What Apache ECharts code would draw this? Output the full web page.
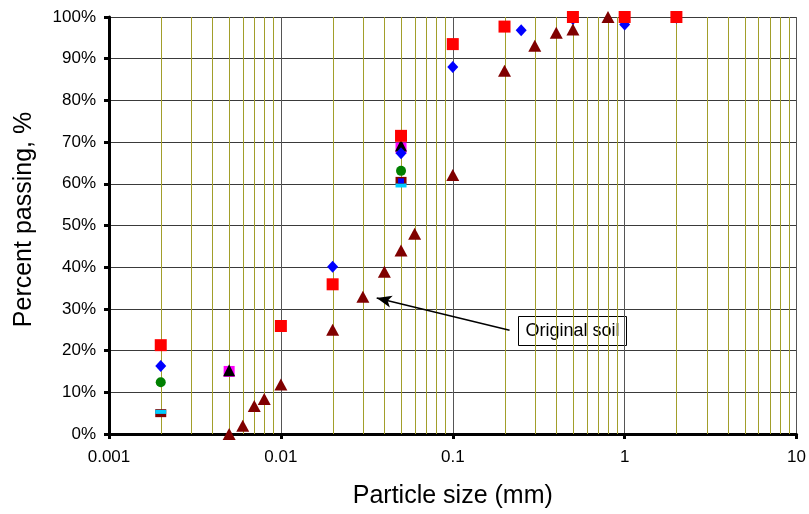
<!DOCTYPE html>
<html>
<head>
<meta charset="utf-8">
<script src="https://cdn.jsdelivr.net/npm/echarts@6/dist/echarts.min.js"></script>
<style>html,body{margin:0;padding:0;background:#fff}#c{width:809px;height:514px}</style>
</head>
<body>
<div id="c"></div>
<script>
// ---- data (particle size in mm, percent passing) ----
const blueSize   = [0.002, 0.02, 0.05, 0.1, 0.25, 0.5, 1, 2];
const blueVal    = [16.3, 40.1, 67.3, 88.0, 96.8, 99.5, 98.2, 99.8];
const redSize    = [0.002, 0.01, 0.02, 0.05, 0.1, 0.2, 0.5, 1, 2];
const redVal     = [21.3, 25.9, 35.9, 71.5, 93.5, 97.7, 100, 100, 100];
const origSize   = [0.005, 0.006, 0.007, 0.008, 0.01, 0.02, 0.03, 0.04, 0.05, 0.06, 0.1, 0.2, 0.3, 0.4, 0.5, 0.8];
const origVal    = [0, 2.0, 6.7, 8.4, 11.9, 25.0, 32.9, 38.9, 44.0, 48.0, 62.1, 87.1, 93.1, 96.2, 97.0, 100];
const greenSize  = [0.002, 0.05];
const greenVal   = [12.4, 63.1];
const magentaSize= [0.005, 0.05];
const magentaVal = [15.0, 68.6];
const blackSize  = [0.005, 0.05];
const blackVal   = [15.3, 69.2];
const maroonSize = [0.002, 0.05];
const maroonVal  = [5.0, 60.7];
const cyanSize   = [0.002, 0.05];
const cyanVal    = [5.3, 59.6];
const navySize   = [0.05];
const navyVal    = [60.7];
const xTickLabels = ['0.001', '0.01', '0.1', '1', '10'];
const minorTicks = [];
[0.001, 0.01, 0.1, 1].forEach(d => { for (let m = 2; m <= 9; m++) minorTicks.push(+(d * m).toPrecision(2)); });
const arrowFrom = [0.214, 24.9];
const arrowTo   = [0.0361, 32.6];
const noteText  = 'Original soil';

const pts = (xs, ys) => xs.map((x, i) => [x, ys[i]]);
const FONT = "'Liberation Sans', Arial, sans-serif";

function sc(name, xs, ys, symbol, size, color, z, extra) {
  return Object.assign({
    name: name, type: 'scatter', data: pts(xs, ys), symbol: symbol, symbolSize: size,
    itemStyle: { color: color, opacity: 1 }, z: z, clip: false, silent: true
  }, extra || {});
}

const chart = echarts.init(document.getElementById('c'), null, { renderer: 'canvas' });
chart.setOption({
  backgroundColor: '#fff',
  animation: false,
  grid: { left: 109, right: 12, top: 17, bottom: 80, containLabel: false },
  xAxis: {
    type: 'log', logBase: 10, min: 0.001, max: 10,
    name: 'Particle size (mm)', nameLocation: 'middle', nameGap: 50,
    nameTextStyle: { fontFamily: FONT, fontSize: 25, color: '#000' },
    axisLine: { show: true, onZero: false, lineStyle: { color: '#000', width: 3 } },
    axisTick: { show: true, length: 5, lineStyle: { color: '#000', width: 3 } },
    axisLabel: {
      fontFamily: FONT, fontSize: 17, color: '#000', margin: 15,
      formatter: v => xTickLabels[Math.round(Math.log10(v)) + 3]
    },
    splitLine: { show: true, lineStyle: { color: '#555', width: 1 } },
    minorTick: { show: false }, minorSplitLine: { show: false }
  },
  yAxis: {
    type: 'value', min: 0, max: 100, interval: 10,
    name: 'Percent passing, %', nameLocation: 'middle', nameGap: 72,
    nameTextStyle: { fontFamily: FONT, fontSize: 25, color: '#000', padding: [0, 0, 0, 12] },
    axisLine: { show: true, lineStyle: { color: '#000', width: 3 } },
    axisTick: { show: true, length: 5, lineStyle: { color: '#000', width: 3 } },
    axisLabel: { fontFamily: FONT, fontSize: 17, color: '#000', margin: 13, formatter: '{value}%' },
    splitLine: { show: true, lineStyle: { color: '#3a3a3a', width: 1 } }
  },
  series: [
    {
      type: 'custom', z: 1, silent: true, clip: true,
      data: minorTicks.map(v => [v, 0]),
      encode: { x: 0, y: 1 },
      renderItem: function (params, api) {
        const v = api.value(0);
        const p0 = api.coord([v, 0]);
        const p1 = api.coord([v, 100]);
        const x = Math.round(p0[0]) + 0.5;
        return { type: 'line', shape: { x1: x, y1: p0[1], x2: x, y2: p1[1] },
                 style: { stroke: '#a29e2a', lineWidth: 1 } };
      }
    },
    sc('maroon', maroonSize, maroonVal, 'rect', [11, 8], '#800000', 3),
    sc('cyan', cyanSize, cyanVal, 'rect', [11, 4], '#00ccff', 4),
    sc('navy', navySize, navyVal, 'rect', [6, 5], '#0000ff', 4),
    sc('green', greenSize, greenVal, 'circle', 10, '#008000', 4),
    sc('magenta', magentaSize, magentaVal, 'rect', 11, '#ff00ff', 4),
    sc('black', blackSize, blackVal, 'triangle', 12, '#000000', 5),
    sc('blue', blueSize, blueVal, 'diamond', [11, 12], '#0000ff', 6),
    sc('red', redSize, redVal, 'rect', 12, '#ff0000', 7),
    sc('Original soil', origSize, origVal, 'triangle', [13, 12], '#800000', 8),
    {
      type: 'line', data: [], z: 9, silent: true,
      markLine: {
        silent: true, animation: false,
        symbol: ['none', 'arrow'], symbolSize: [9, 15],
        label: { show: false },
        lineStyle: { color: '#000', width: 1.5, type: 'solid' },
        data: [[{ coord: arrowFrom }, { coord: arrowTo }]]
      }
    }
  ],
  graphic: [
    {
      type: 'group', left: 518, top: 316, z: 20,
      children: [
        { type: 'rect', shape: { x: 0, y: 0, width: 108, height: 29 },
          style: { fill: '#fff', stroke: '#000', lineWidth: 1 } },
        { type: 'text', x: 54, y: 15,
          style: { text: noteText, font: "18px 'Liberation Sans', Arial, sans-serif",
                   fill: '#000', align: 'center', verticalAlign: 'middle' } }
      ]
    }
  ]
});
</script>
</body>
</html>
